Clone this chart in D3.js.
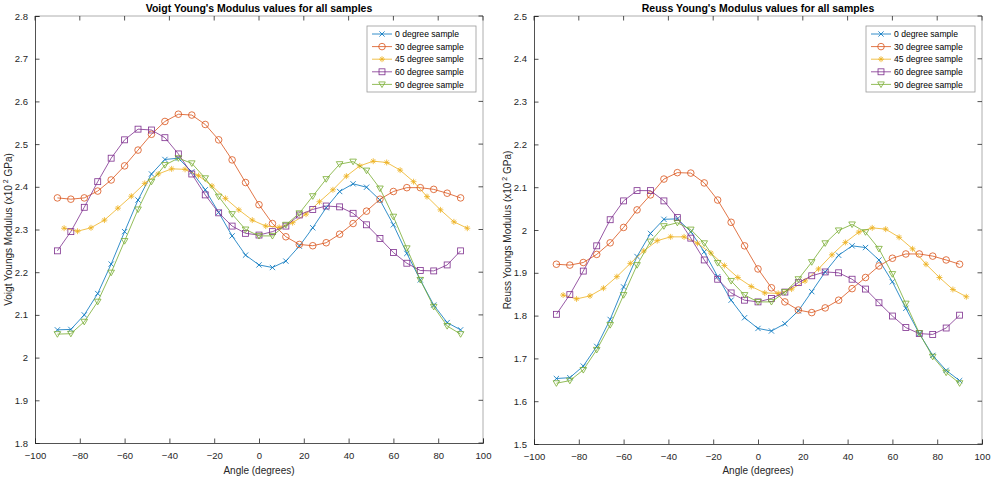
<!DOCTYPE html>
<html>
<head>
<meta charset="utf-8">
<script src="https://cdn.jsdelivr.net/npm/d3@7/dist/d3.min.js"></script>
<style>
  html, body { margin: 0; padding: 0; background: #fff; }
  svg { display: block; font-family: "Liberation Sans", Arial, sans-serif; }
</style>
</head>
<body>
<svg id="chart" width="991" height="480"></svg>
<script>
// ---------- DATA ----------
const anglesMain = [-90,-84,-78,-72,-66,-60,-54,-48,-42,-36,-30,-24,-18,-12,-6,0,6,12,18,24,30,36,42,48,54,60,66,72,78,84,90];
const angles45   = [-87,-81,-75,-69,-63,-57,-51,-45,-39,-33,-27,-21,-15,-9,-3,3,9,15,21,27,33,39,45,51,57,63,69,75,81,87,93];

const seriesNames = ["0 degree sample","30 degree sample","45 degree sample","60 degree sample","90 degree sample"];

// Voigt
const voigt0  = [2.065,2.066,2.100,2.150,2.219,2.295,2.369,2.430,2.464,2.467,2.435,2.393,2.340,2.285,2.240,2.217,2.211,2.226,2.261,2.304,2.351,2.389,2.407,2.399,2.369,2.311,2.244,2.182,2.123,2.082,2.065];
const voigt30 = [2.374,2.371,2.374,2.390,2.416,2.449,2.486,2.523,2.553,2.570,2.568,2.546,2.510,2.463,2.410,2.358,2.314,2.283,2.265,2.262,2.269,2.289,2.314,2.343,2.371,2.389,2.398,2.398,2.394,2.385,2.374];
const voigt45 = [2.303,2.296,2.304,2.322,2.350,2.378,2.408,2.430,2.442,2.441,2.426,2.402,2.373,2.346,2.322,2.308,2.305,2.316,2.336,2.365,2.393,2.425,2.449,2.460,2.457,2.439,2.412,2.377,2.346,2.318,2.303];
const voigt60 = [2.250,2.295,2.352,2.412,2.467,2.510,2.535,2.533,2.515,2.477,2.430,2.381,2.339,2.308,2.291,2.287,2.295,2.308,2.334,2.347,2.355,2.353,2.338,2.311,2.279,2.246,2.221,2.204,2.203,2.217,2.250];
const voigt90 = [2.055,2.056,2.084,2.131,2.199,2.273,2.347,2.412,2.451,2.467,2.455,2.420,2.377,2.336,2.300,2.285,2.285,2.311,2.338,2.378,2.418,2.453,2.459,2.438,2.396,2.330,2.256,2.182,2.119,2.074,2.055];

// Reuss
const reuss0  = [1.653,1.655,1.682,1.728,1.791,1.867,1.938,1.992,2.025,2.026,1.996,1.949,1.891,1.836,1.795,1.770,1.764,1.781,1.811,1.856,1.902,1.941,1.963,1.959,1.930,1.879,1.817,1.758,1.707,1.672,1.648];
const reuss30 = [1.920,1.918,1.924,1.943,1.970,2.006,2.047,2.082,2.119,2.134,2.133,2.110,2.070,2.018,1.963,1.909,1.865,1.832,1.813,1.807,1.818,1.836,1.863,1.889,1.916,1.934,1.944,1.944,1.939,1.930,1.920];
const reuss45 = [1.848,1.839,1.846,1.864,1.891,1.922,1.951,1.975,1.984,1.984,1.969,1.946,1.917,1.889,1.868,1.853,1.852,1.862,1.881,1.909,1.942,1.971,1.995,2.005,2.002,1.983,1.956,1.920,1.889,1.861,1.844];
const reuss60 = [1.803,1.849,1.904,1.963,2.024,2.068,2.092,2.092,2.068,2.029,1.981,1.930,1.885,1.853,1.836,1.832,1.840,1.855,1.877,1.893,1.902,1.900,1.885,1.862,1.830,1.799,1.772,1.758,1.756,1.771,1.801];
const reuss90 = [1.642,1.648,1.673,1.720,1.778,1.848,1.918,1.973,2.009,2.017,2.001,1.969,1.923,1.881,1.848,1.832,1.832,1.855,1.885,1.925,1.969,1.999,2.013,1.995,1.956,1.897,1.828,1.759,1.704,1.667,1.642];

const xTicks = [-100,-80,-60,-40,-20,0,20,40,60,80,100];
const voigtTicks = [1.8,1.9,2,2.1,2.2,2.3,2.4,2.5,2.6,2.7,2.8];
const reussTicks = [1.5,1.6,1.7,1.8,1.9,2,2.1,2.2,2.3,2.4,2.5];

const colors = ["#0072BD","#D95319","#EDB120","#7E2F8E","#77AC30"];
const markers = ["x","circle","star","square","triangleDown"];

// ---------- DRAW ----------
const svg = d3.select("#chart");

function drawMarker(g, type, x, y, color) {
  const s = 3.3;
  const common = sel => sel.attr("stroke", color).attr("stroke-width", 0.8).attr("fill", "none");
  if (type === "x") {
    common(g.append("path").attr("d", `M${x-s*0.8},${y-s*0.8}L${x+s*0.8},${y+s*0.8}M${x-s*0.8},${y+s*0.8}L${x+s*0.8},${y-s*0.8}`));
  } else if (type === "circle") {
    common(g.append("circle").attr("cx", x).attr("cy", y).attr("r", s));
  } else if (type === "star") {
    const d = s * 0.9;
    common(g.append("path").attr("d",
      `M${x-d},${y}L${x+d},${y}M${x},${y-d}L${x},${y+d}M${x-d*0.7},${y-d*0.7}L${x+d*0.7},${y+d*0.7}M${x-d*0.7},${y+d*0.7}L${x+d*0.7},${y-d*0.7}`));
  } else if (type === "square") {
    common(g.append("rect").attr("x", x-s*0.9).attr("y", y-s*0.9).attr("width", s*1.8).attr("height", s*1.8));
  } else if (type === "triangleDown") {
    common(g.append("path").attr("d", `M${x-s},${y-s*0.75}L${x+s},${y-s*0.75}L${x},${y+s*0.95}Z`));
  }
}

function drawPanel(opts) {
  const { left, right, top, bottom, yDomain, yTicks, series, title, ylabel } = opts;
  const g = svg.append("g");
  const x = d3.scaleLinear().domain([-100, 100]).range([left, right]);
  const y = d3.scaleLinear().domain(yDomain).range([bottom, top]);
  const tickLen = 4.5;
  const axisColor = "#262626";
  const fmt = v => d3.format("")(+v.toFixed(1));

  // box
  g.append("line").attr("x1", left).attr("x2", right).attr("y1", top).attr("y2", top).attr("stroke", "#9a9a9a").attr("stroke-width", 0.8);
  g.append("line").attr("x1", right).attr("x2", right).attr("y1", top).attr("y2", bottom).attr("stroke", "#9a9a9a").attr("stroke-width", 0.8);

  // bottom axis
  const xAxis = d3.axisBottom(x).tickValues(xTicks).tickSize(-tickLen).tickPadding(9).tickFormat(d3.format("d"));
  const gx = g.append("g").attr("transform", `translate(0,${bottom})`).call(xAxis);
  gx.select(".domain").attr("stroke", axisColor).attr("stroke-width", 0.8);
  gx.selectAll(".tick line").attr("stroke", axisColor).attr("stroke-width", 0.8);
  gx.selectAll(".tick text").attr("fill", axisColor).attr("font-size", 9.5).attr("font-family", "Liberation Sans, Arial, sans-serif");
  // top ticks
  g.selectAll(".ttick").data(xTicks).enter().append("line")
    .attr("x1", d => x(d)).attr("x2", d => x(d)).attr("y1", top).attr("y2", top + tickLen)
    .attr("stroke", axisColor).attr("stroke-width", 0.8);

  // left axis
  const yAxis = d3.axisLeft(y).tickValues(yTicks).tickSize(-tickLen).tickPadding(7).tickFormat(fmt);
  const gy = g.append("g").attr("transform", `translate(${left},0)`).call(yAxis);
  gy.select(".domain").attr("stroke", axisColor).attr("stroke-width", 0.8);
  gy.selectAll(".tick line").attr("stroke", axisColor).attr("stroke-width", 0.8);
  gy.selectAll(".tick text").attr("fill", axisColor).attr("font-size", 9.5).attr("font-family", "Liberation Sans, Arial, sans-serif");
  // right ticks
  g.selectAll(".rtick").data(yTicks).enter().append("line")
    .attr("x1", right).attr("x2", right - tickLen).attr("y1", d => y(d)).attr("y2", d => y(d))
    .attr("stroke", axisColor).attr("stroke-width", 0.8);

  // series
  series.forEach((s, i) => {
    const pts = s.x.map((xv, j) => [x(xv), y(s.y[j])]);
    g.append("path").attr("d", d3.line()(pts)).attr("fill", "none")
      .attr("stroke", colors[i]).attr("stroke-width", 0.8);
    const mg = g.append("g");
    pts.forEach(p => drawMarker(mg, markers[i], p[0], p[1], colors[i]));
  });

  // title
  g.append("text").attr("x", (left + right) / 2).attr("y", 12).attr("text-anchor", "middle")
    .attr("font-size", 10.5).attr("font-weight", "bold").attr("fill", "#000").text(title);

  // x label
  g.append("text").attr("x", (left + right) / 2).attr("y", 474).attr("text-anchor", "middle")
    .attr("font-size", 10).attr("fill", axisColor).text("Angle (degrees)");

  // y label
  const yl = g.append("text").attr("transform", `translate(${left - 23},${(top + bottom) / 2}) rotate(-90)`)
    .attr("text-anchor", "middle").attr("font-size", 10).attr("fill", axisColor);
  yl.append("tspan").text(ylabel + " (x10");
  yl.append("tspan").attr("dy", -4).attr("font-size", 7).text(" 2");
  yl.append("tspan").attr("dy", 4).text(" GPa)");

  // legend
  const lx = right - 116, ly = top + 10, lw = 109, lh = 66;
  const lg = g.append("g");
  lg.append("rect").attr("x", lx).attr("y", ly).attr("width", lw).attr("height", lh)
    .attr("fill", "#fff").attr("stroke", "#9a9a9a").attr("stroke-width", 0.8);
  seriesNames.forEach((name, i) => {
    const yy = ly + 8 + i * 12.6;
    lg.append("line").attr("x1", lx + 5).attr("x2", lx + 25).attr("y1", yy).attr("y2", yy)
      .attr("stroke", colors[i]).attr("stroke-width", 0.8);
    drawMarker(lg, markers[i], lx + 15, yy, colors[i]);
    lg.append("text").attr("x", lx + 28).attr("y", yy + 3.2).attr("font-size", 8.6)
      .attr("fill", "#000").text(name);
  });
}

drawPanel({
  left: 35, right: 483, top: 16, bottom: 443,
  yDomain: [1.8, 2.8], yTicks: voigtTicks,
  title: "Voigt Young's Modulus values for all samples",
  ylabel: "Voigt Youngs Modulus",
  series: [
    { x: anglesMain, y: voigt0 },
    { x: anglesMain, y: voigt30 },
    { x: angles45,   y: voigt45 },
    { x: anglesMain, y: voigt60 },
    { x: anglesMain, y: voigt90 }
  ]
});

drawPanel({
  left: 534, right: 982, top: 16, bottom: 444,
  yDomain: [1.5, 2.5], yTicks: reussTicks,
  title: "Reuss Young's Modulus values for all samples",
  ylabel: "Reuss Youngs Modulus",
  series: [
    { x: anglesMain, y: reuss0 },
    { x: anglesMain, y: reuss30 },
    { x: angles45,   y: reuss45 },
    { x: anglesMain, y: reuss60 },
    { x: anglesMain, y: reuss90 }
  ]
});
</script>
</body>
</html>
